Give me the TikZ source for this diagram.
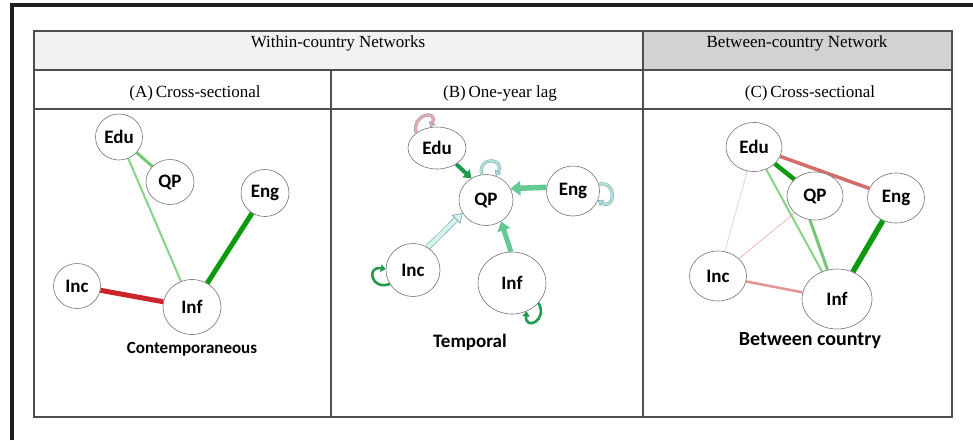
\documentclass[tikz,border=0pt]{standalone}
\usepackage{fontspec}
\setmainfont{Liberation Serif}
\newfontfamily\labelfont{Carlito}
\usetikzlibrary{shapes.geometric,arrows.meta,backgrounds}

\definecolor{headlight}{HTML}{F2F2F2}
\definecolor{headdark}{HTML}{D2D2D2}
\definecolor{gridline}{HTML}{4D4D4D}
\definecolor{posstrong}{HTML}{0E990E}
\definecolor{posmid}{HTML}{74C874}
\definecolor{posweak}{HTML}{86D286}
\definecolor{posfaint}{HTML}{CDEBCD}
\definecolor{negstrong}{HTML}{C9252B}
\definecolor{negmid}{HTML}{D56B6B}
\definecolor{negweak}{HTML}{E39393}
\definecolor{negfaint}{HTML}{F4C4C4}
\definecolor{lagdark}{HTML}{1E9B4C}
\definecolor{lagmid}{HTML}{62CA92}
\definecolor{lagpale}{HTML}{D6F2EA}
\definecolor{lagedge}{HTML}{6AA8BC}
\definecolor{looppink}{HTML}{F2A7A7}
\definecolor{loopgreen}{HTML}{AEE3C8}
\definecolor{loopedge}{HTML}{7F9FD6}

\begin{document}
\begin{tikzpicture}[x=1pt, y=-1pt,
  var/.style={ellipse, draw=black!55, line width=0.6pt, fill=white, inner sep=0pt,
    font=\labelfont\bfseries\fontsize{19}{19}\selectfont},
  caption/.style={anchor=base, font=\labelfont\bfseries\fontsize{#1}{#1}\selectfont},
  head/.style={anchor=base, font=\fontsize{17}{20}\selectfont},
  grid/.style={draw=gridline, line width=1.1pt},
  link/.style 2 args={draw=#1, line width=#2},
  lag/.style 2 args={draw=#1, line width=#2, -{Triangle[length=0pt 1.8, width=0pt 2.6]}},
  lagoutline/.style={draw=lagedge, double=lagpale, double distance=4.4pt, line width=0.6pt,
    -{Triangle[length=9pt, width=12pt, fill=lagpale]}},
  loopsolid/.style={draw=lagdark, line width=2.6pt, -{Triangle[length=5pt, width=7.5pt]}},
  loopoutline/.style={draw=loopedge, double=#1, double distance=2.2pt, line width=0.5pt,
    -{Triangle[length=5pt, width=7.5pt, fill=#1]}},
]
\useasboundingbox (0,0) rectangle (973,440);

% frame and table
\draw[line width=3.5pt, black!88] (12,440) -- (12,5) -- (973,5);
\fill[headlight] (34,31) rectangle (643,70);
\fill[headdark] (643,31) rectangle (952,70);
\draw[grid] (34,31) rectangle (952,417);
\draw[grid] (34,70) -- (952,70);
\draw[grid] (34,109) -- (952,109);
\draw[grid] (643,31) -- (643,417);
\draw[grid] (331,70) -- (331,417);

\node[head] (within) at (338,47) {Within-country Networks};
\node[head] (between) at (797,47) {Between-country Network};
\node[head] (capa) at (195,97) {(A)\,Cross-sectional};
\node[head] (capb) at (500,97) {(B)\,One-year lag};
\node[head] (capc) at (810,97) {(C)\,Cross-sectional};

% (A) contemporaneous
\node[var, minimum width=47, minimum height=46] (aedu) at (119,137) {Edu};
\node[var, minimum width=48, minimum height=45] (aqp) at (170,182) {QP};
\node[var, minimum width=48, minimum height=47] (aeng) at (265,193) {Eng};
\node[var, minimum width=47, minimum height=45] (ainc) at (77,286) {Inc};
\node[var, minimum width=58, minimum height=55] (ainf) at (192,307) {Inf};
\node[caption=17] (acap) at (192,353) {Contemporaneous};

\begin{scope}[on background layer]
\path[] (aedu) [link={posmid}{3pt}] edge (aqp);
\path[] (aedu) [link={posweak}{2pt}] edge (ainf);
\path[] (aeng) [link={posstrong}{5pt}] edge (ainf);
\path[] (ainc) [link={negstrong}{5pt}] edge (ainf);
\end{scope}

% (B) temporal
\node[var, minimum width=58, minimum height=42] (bedu) at (437,148) {Edu};
\node[var, minimum width=54, minimum height=51] (bqp) at (486,200) {QP};
\node[var, minimum width=53, minimum height=50] (beng) at (573,191) {Eng};
\node[var, minimum width=54, minimum height=53] (binc) at (413,270) {Inc};
\node[var, minimum width=68, minimum height=62] (binf) at (512,283) {Inf};
\node[caption=19] (bcap) at (470,347) {Temporal};

\begin{scope}[on background layer]
\draw[lag={lagdark}{4pt}] (bedu.320) -- (bqp.124);
\draw[lag={lagmid}{5.5pt}] (beng.172) -- (bqp.25);
\draw[lag={lagmid}{5pt}] (binf.92) -- (bqp.305);
\draw[lagoutline] (binc.57) -- (bqp.209);
\end{scope}

% self-loops (polar angles flipped because y runs downwards)
\draw[loopoutline=looppink] (bedu.144) .. controls +(-105:20) and +(-65:20) .. (bedu.108);
\draw[loopoutline=loopgreen] (bqp.100) .. controls +(-100:20) and +(-60:20) .. (bqp.68);
\draw[loopoutline=loopgreen] (beng.15) .. controls +(-10:20) and +(35:20) .. (beng.340);
\draw[loopsolid] (binc.211) .. controls +(160:20) and +(190:20) .. (binc.178);
\draw[loopsolid] (binf.323) .. controls +(60:20) and +(95:20) .. (binf.297);

% (C) between country
\node[var, minimum width=56, minimum height=49] (cedu) at (754,147) {Edu};
\node[var, minimum width=56, minimum height=48] (cqp) at (815,196) {QP};
\node[var, minimum width=57, minimum height=50] (ceng) at (896,198) {Eng};
\node[var, minimum width=57, minimum height=50] (cinc) at (718,276) {Inc};
\node[var, minimum width=70, minimum height=60] (cinf) at (837,299) {Inf};
\node[caption=20] (ccap) at (810,345) {Between country};

\begin{scope}[on background layer]
\path[] (cedu) [link={posfaint}{1pt}] edge (cinc);
\path[] (cqp) [link={negfaint}{1pt}] edge (cinc);
\path[] (cedu) [link={posweak}{2pt}] edge (cinf);
\path[] (cqp.258) [link={posmid}{3pt}] edge (cinf.108);
\path[] (cedu) [link={posstrong}{4.5pt}] edge (cqp);
\path[] (cedu) [link={negmid}{3.5pt}] edge (ceng);
\path[] (ceng) [link={posstrong}{5.5pt}] edge (cinf);
\path[] (cinc) [link={negweak}{2.5pt}] edge (cinf);
\end{scope}
\end{tikzpicture}
\end{document}
